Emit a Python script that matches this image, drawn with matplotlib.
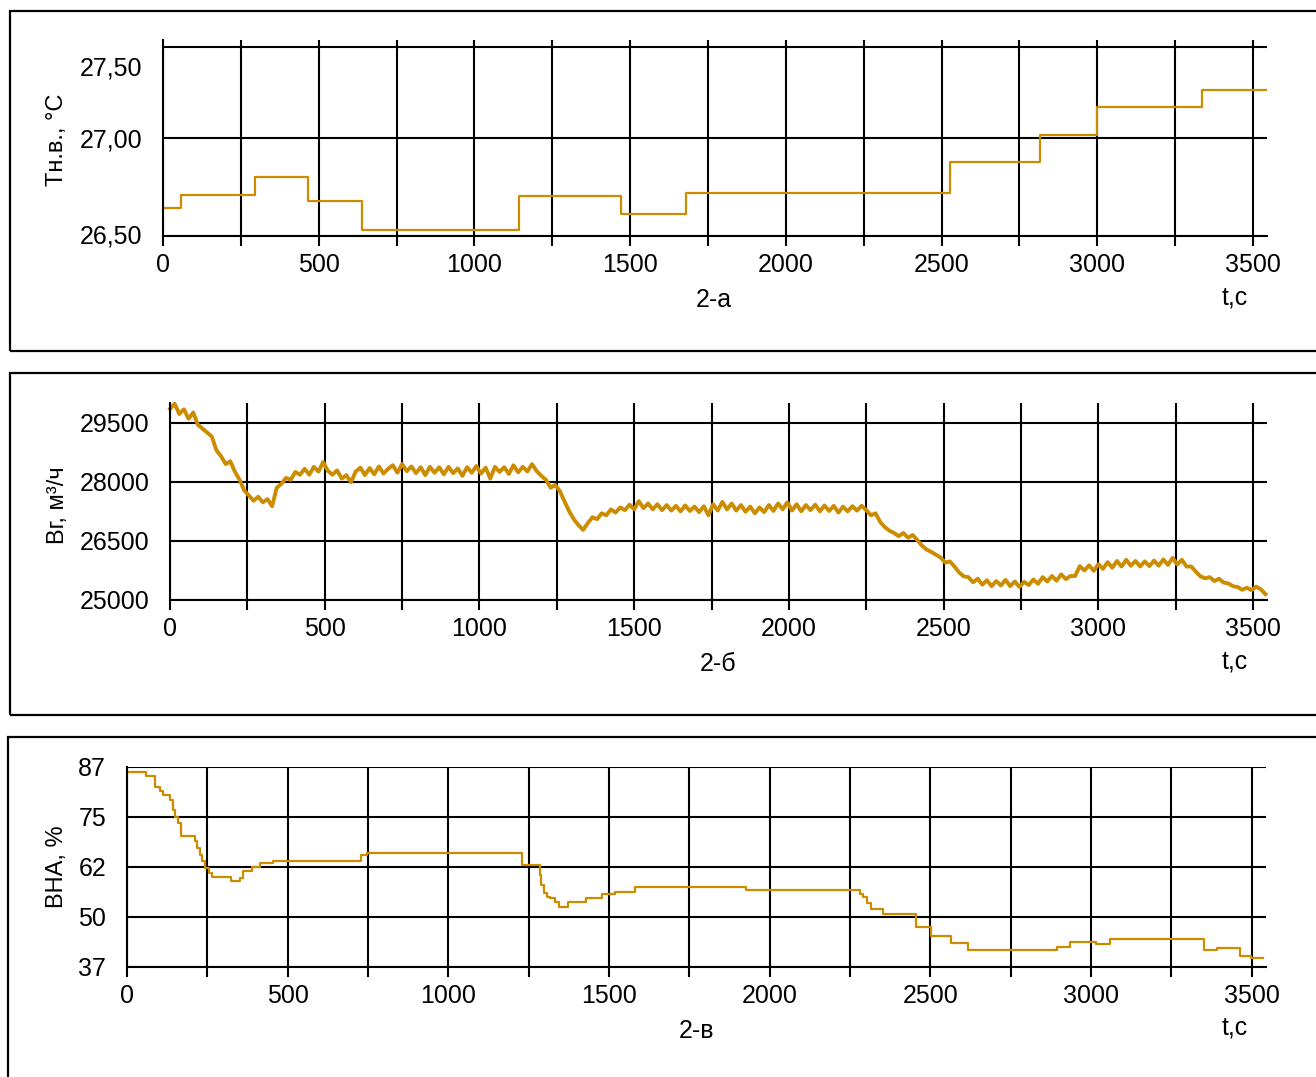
import matplotlib
matplotlib.use('Agg')
import matplotlib.pyplot as plt
from matplotlib.patches import Rectangle
import numpy as np

plt.rcParams['font.family'] = ['Liberation Sans', 'DejaVu Sans']

W, H = 1316, 1077
LINE_COLOR = '#CC8C00'

# --- data ---
# 2-а : air temperature, step changes (time of change, new value)
temp_t = [0, 57, 295, 464, 640, 1142, 1472, 1680, 2526, 2817, 2998, 3337, 3541]
temp_v = [26.644, 26.708, 26.803, 26.677, 26.529, 26.706, 26.614, 26.719,
          26.876, 27.014, 27.160, 27.245, 27.245]
temp_grid = [26.5, 27.0, 27.464]
temp_labels = ['26,50', '27,00', '27,50']

# 2-б : gas flow, sampled every 15 s
bg_step = 15
bg_v = [
    29850, 29980, 29720, 29840, 29600, 29760, 29450, 29350, 29250, 29150,
    28800, 28650, 28450, 28520, 28250, 28050, 27780, 27650, 27520, 27620,
    27480, 27560, 27380, 27850, 27950, 28100, 28050, 28250, 28180, 28330,
    28180, 28380, 28260, 28500, 28280, 28180, 28290, 28080, 28170, 27990,
    28260, 28360, 28170, 28350, 28190, 28390, 28210, 28330, 28420, 28230,
    28450, 28270, 28390, 28220, 28370, 28170, 28380, 28230, 28370, 28190,
    28380, 28220, 28340, 28150, 28370, 28230, 28400, 28210, 28360, 28080,
    28380, 28250, 28370, 28200, 28420, 28240, 28380, 28260, 28450, 28270,
    28150, 28050, 27850, 27920, 27760, 27500, 27250, 27050, 26900, 26780,
    26950, 27100, 27050, 27200, 27150, 27300, 27220, 27350, 27280, 27420,
    27300, 27510, 27330, 27450, 27300, 27430, 27280, 27410, 27270, 27390,
    27250, 27400, 27260, 27370, 27230, 27380, 27150, 27430, 27270, 27490,
    27300, 27450, 27270, 27410, 27240, 27370, 27200, 27350, 27230, 27410,
    27260, 27450, 27300, 27480, 27270, 27430, 27250, 27410, 27280, 27420,
    27250, 27400, 27260, 27390, 27220, 27370, 27250, 27380, 27270, 27390,
    27280, 27150, 27200, 26980, 26850, 26760, 26700, 26620, 26700, 26580,
    26650, 26520, 26380, 26280, 26220, 26150, 26080, 25950, 25980, 25850,
    25700, 25600, 25580, 25450, 25540, 25390, 25500, 25350, 25480, 25370,
    25510, 25350, 25470, 25330, 25460, 25380, 25520, 25410, 25580, 25470,
    25610, 25490, 25650, 25530, 25610, 25610, 25860, 25750, 25880, 25740,
    25910, 25790, 25960, 25820, 25990, 25850, 26020, 25870, 25990, 25850,
    25980, 25860, 26000, 25870, 26030, 25890, 26070, 25900, 26020, 25850,
    25850, 25720, 25600, 25550, 25580, 25480, 25540, 25440, 25420, 25350,
    25330, 25260, 25310, 25250, 25340, 25270, 25150,
]
bg_t = np.arange(len(bg_v)) * bg_step
bg_grid = [25000, 26500, 28000, 29500]
bg_labels = ['25000', '26500', '28000', '29500']

# 2-в : guide vanes position, step changes
vna_t = [0, 60, 88, 104, 112, 135, 143, 150, 159, 167, 211, 219, 226, 233, 242,
         254, 264, 325, 353, 361, 389, 413, 455, 728, 746, 1230, 1284, 1290,
         1298, 1306, 1316, 1332, 1345, 1373, 1429, 1477, 1519, 1581, 1927,
         2282, 2292, 2303, 2315, 2352, 2455, 2502, 2565, 2616, 2895, 2936,
         3017, 3059, 3351, 3393, 3464, 3497, 3536]
vna_v = [85.8, 84.8, 82.1, 81.1, 80.1, 78.8, 76.3, 74.6, 73.0, 69.8, 68.4, 66.7,
         65.0, 63.4, 61.7, 60.5, 59.5, 58.4, 59.2, 60.9, 62.1, 63.0, 63.5, 65.0,
         65.5, 62.5, 60.0, 57.5, 55.4, 54.6, 54.2, 53.2, 52.1, 53.2, 54.2, 55.3,
         55.8, 56.9, 56.2, 55.3, 54.4, 53.0, 51.5, 50.3, 47.1, 44.8, 42.9, 41.3,
         41.9, 43.3, 42.8, 43.9, 41.3, 41.8, 39.8, 39.2, 39.2]
vna_grid = [37, 49.5, 62, 74.5, 87]
vna_labels = ['37', '50', '62', '75', '87']

x_major = [0, 500, 1000, 1500, 2000, 2500, 3000, 3500]
x_minor = [250, 750, 1250, 1750, 2250, 2750, 3250]


def px_axes(l, t, r, b):
    return [l / W, 1 - b / H, (r - l) / W, (b - t) / H]


def setup(ax, ylim, ygrid, label_pos, labels):
    ax.set_xlim(0, 3545)
    ax.set_ylim(ylim)
    ax.set_xticks(x_major)
    ax.set_xticklabels([str(v) for v in x_major])
    ax.set_xticks(x_minor, minor=True)
    # gridlines on major y ticks, labels on minor ones (positions differ in 2-а)
    ax.yaxis.remove_overlapping_locs = False
    ax.set_yticks(ygrid)
    ax.set_yticklabels([])
    ax.set_yticks(label_pos, minor=True)
    ax.set_yticklabels(labels, minor=True)
    ax.tick_params(axis='x', which='both', direction='out', length=7,
                   width=1.5, pad=5, labelsize=18, color='black')
    ax.tick_params(axis='y', which='both', length=0, pad=15, labelsize=18)
    ax.grid(axis='x', which='both', color='black', linewidth=1.5)
    ax.grid(axis='y', which='major', color='black', linewidth=1.5)
    ax.set_axisbelow(True)
    for s in ['top', 'right']:
        ax.spines[s].set_visible(False)
    for s in ['left', 'bottom']:
        ax.spines[s].set_linewidth(1.5)


fig = plt.figure(figsize=(W / 100, H / 100), dpi=100)

# panel frames
for (l, t, r, b) in [(10, 11, 1330, 351), (10, 373, 1330, 715), (8, 737, 1330, 1090)]:
    fig.patches.append(Rectangle((l / W, 1 - b / H), (r - l) / W, (b - t) / H,
                                 transform=fig.transFigure, fill=False,
                                 edgecolor='black', linewidth=1.6))

# 2-а
ax1 = fig.add_axes(px_axes(163, 40, 1267, 236))
setup(ax1, (26.5, 27.5), temp_grid, [26.51, 27.0, 27.367], temp_labels)
ax1.plot(temp_t, temp_v, drawstyle='steps-post', color=LINE_COLOR, linewidth=1.6)

# 2-б
ax2 = fig.add_axes(px_axes(170, 403, 1267, 600))
setup(ax2, (25000, 30000), bg_grid, bg_grid, bg_labels)
ax2.plot(bg_t, bg_v, color=LINE_COLOR, linewidth=2.8, clip_on=False)

# 2-в
ax3 = fig.add_axes(px_axes(127, 767, 1266, 967))
setup(ax3, (37, 87), vna_grid, vna_grid, vna_labels)
ax3.plot(vna_t, vna_v, drawstyle='steps-post', color=LINE_COLOR, linewidth=1.6)


def ftext(x, y, s, **kw):
    fig.text(x / W, 1 - y / H, s, ha='center', va='center', **kw)


# y labels
ftext(57, 140, 'Тн.в., °С', rotation=90, fontsize=17)
ftext(58, 505, 'Вг, м³/ч', rotation=90, fontsize=17)
ftext(57, 867, 'ВНА, %', rotation=90, fontsize=17)

# captions and time unit
ftext(714, 300, '2-а', fontsize=18)
ftext(718, 664, '2-б', fontsize=18)
ftext(697, 1031, '2-в', fontsize=18)
for yy in [297, 661, 1028]:
    ftext(1235, yy, 't,c', fontsize=18)

fig.savefig('out.png', dpi=100)
